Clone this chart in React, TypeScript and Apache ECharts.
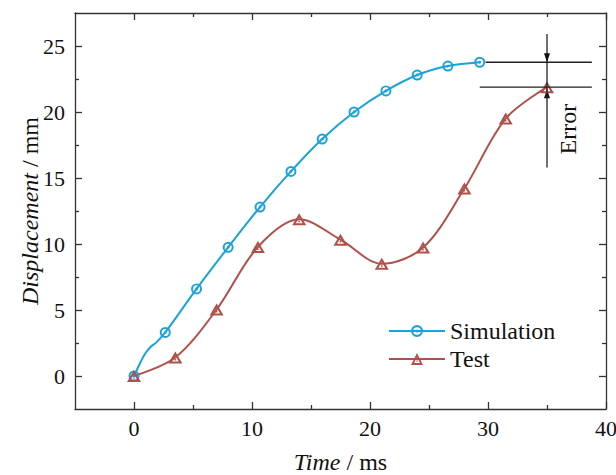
import React, { useEffect, useRef } from "react";
import * as echarts from "echarts";

// Simulation (marked points)
const simX = [0, 2.65, 5.3, 7.98, 10.68, 13.3, 15.95, 18.65, 21.35, 24.0, 26.6, 29.3];
const simY = [0, 3.3, 6.6, 9.75, 12.8, 15.5, 17.95, 20.0, 21.6, 22.8, 23.48, 23.77];
// Simulation extra (unmarked) points near the start
const simExtraX = [0.5, 0.95, 1.4, 1.9];
const simExtraY = [0.95, 1.7, 2.2, 2.55];
// Test
const testX = [0, 3.5, 7.0, 10.5, 14.0, 17.5, 21.0, 24.5, 28.0, 31.5, 35.0];
const testY = [0, 1.4, 5.03, 9.77, 11.87, 10.33, 8.5, 9.73, 14.2, 19.5, 21.88];

const xMajor = [0, 10, 20, 30, 40];
const xMinor = [5, 15, 25, 35];
const yMajor = [0, 5, 10, 15, 20, 25];
const yMinor = [2.5, 7.5, 12.5, 17.5, 22.5];

// Error annotation (data coords)
const errX = 35;
const errTop = 25.9;
const errBottom = 15.8;
const refLineStart = [29.8, 29.3];
const refLineEnd = 38.8;
const errLabel = [36.8, 18.7];

const FONT = "'Liberation Serif', 'Times New Roman', serif";
const BLUE = "#1aa2dd";
const RED = "#b0504a";
const AX = "#333333";
const TXT = "#111111";

const circleSym =
  "path://M0,10A10,10,0,1,1,20,10A10,10,0,1,1,0,10ZM3.6,10A6.4,6.4,0,1,0,16.4,10A6.4,6.4,0,1,0,3.6,10ZM7.4,10A2.6,2.6,0,1,1,12.6,10A2.6,2.6,0,1,1,7.4,10Z";
const triSym =
  "path://M10,0L20,18L0,18ZM10,6.2L5.1,15L14.9,15ZM8.9,11.1L11.1,11.1L11.1,13.3L8.9,13.3Z";

export default function App() {
  const ref = useRef<HTMLDivElement>(null);
  useEffect(() => {
    if (!ref.current) return;
    const chart = echarts.init(ref.current, undefined, { renderer: "svg" });

    const simPts: any[] = simX.map((x, i) => ({ value: [x, simY[i]] }));
    simExtraX.forEach((x, i) =>
      simPts.push({ value: [x, simExtraY[i]], symbol: "none" })
    );
    simPts.sort((a, b) => a.value[0] - b.value[0]);
    const testPts = testX.map((x, i) => [x, testY[i]]);

    const lineStyle = { color: AX, width: 1.3 };
    const mkX = (pos: string, ticks: number[], len: number, labels: boolean, line: boolean): any => ({
      type: "value",
      min: -5,
      max: 40,
      position: pos,
      axisLine: { show: line, onZero: false, lineStyle },
      axisTick: { show: true, inside: true, length: len, customValues: ticks, lineStyle },
      axisLabel: labels
        ? { show: true, customValues: xMajor, margin: 8, color: TXT, fontFamily: FONT, fontSize: 22 }
        : { show: false },
      splitLine: { show: false },
    });
    const mkY = (pos: string, ticks: number[], len: number, labels: boolean, line: boolean): any => ({
      type: "value",
      min: -2.5,
      max: 27.5,
      position: pos,
      axisLine: { show: line, onZero: false, lineStyle },
      axisTick: { show: true, inside: true, length: len, customValues: ticks, lineStyle },
      axisLabel: labels
        ? { show: true, customValues: yMajor, margin: 10, color: TXT, fontFamily: FONT, fontSize: 22 }
        : { show: false },
      splitLine: { show: false },
    });

    const titleStyle = {
      color: TXT,
      fontFamily: FONT,
      fontSize: 24,
      rich: { i: { fontStyle: "italic", fontFamily: FONT, fontSize: 24, color: TXT } },
    };
    const xAxes = [
      mkX("bottom", xMajor, 7, true, true),
      mkX("bottom", xMinor, 4, false, false),
      mkX("top", xMajor, 7, false, true),
      mkX("top", xMinor, 4, false, false),
    ];
    Object.assign(xAxes[0], {
      name: "{i|Time} / ms",
      nameLocation: "middle",
      nameGap: 41,
      nameMoveOverlap: false,
      nameTextStyle: titleStyle,
    });
    const yAxes = [
      mkY("left", yMajor, 7, true, true),
      mkY("left", yMinor, 4, false, false),
      mkY("right", yMajor, 7, false, true),
      mkY("right", yMinor, 4, false, false),
    ];
    Object.assign(yAxes[0], {
      name: "{i|Displacement} / mm",
      nameLocation: "middle",
      nameGap: 33,
      nameMoveOverlap: false,
      nameTextStyle: titleStyle,
    });

    chart.setOption({
      animation: false,
      backgroundColor: "#ffffff",
      textStyle: { fontFamily: FONT },
      grid: {
        left: 75,
        right: 10,
        top: 13,
        bottom: 66,
        containLabel: false,
        outerBoundsMode: "none",
      },
      xAxis: xAxes,
      yAxis: yAxes,
      legend: {
        data: ["Simulation", "Test"],
        orient: "vertical",
        left: 383,
        top: 314,
        itemWidth: 56,
        itemHeight: 15,
        itemGap: 4,
        textStyle: { fontFamily: FONT, fontSize: 24, color: TXT },
      },
      series: [
        {
          name: "Simulation",
          type: "line",
          xAxisIndex: 0,
          yAxisIndex: 0,
          smooth: 0.33,
          data: simPts,
          symbol: circleSym,
          symbolSize: 11,
          lineStyle: { color: BLUE, width: 2 },
          itemStyle: { color: BLUE, borderWidth: 0 },
          z: 3,
        },
        {
          name: "Test",
          type: "line",
          xAxisIndex: 0,
          yAxisIndex: 0,
          smooth: 0.33,
          data: testPts,
          symbol: triSym,
          symbolSize: [14, 12],
          lineStyle: { color: RED, width: 2 },
          itemStyle: { color: RED, borderWidth: 0 },
          z: 3,
        },
      ],
    });

    const px = (x: number, y: number) =>
      chart.convertToPixel({ gridIndex: 0 }, [x, y]) as number[];
    const simLast = simY[simY.length - 1];
    const testLast = testY[testY.length - 1];
    const a1 = px(refLineStart[0], simLast);
    const a2 = px(refLineEnd, simLast);
    const b1 = px(refLineStart[1], testLast);
    const b2 = px(refLineEnd, testLast);
    const v1 = px(errX, errTop);
    const v2 = px(errX, errBottom);
    const tipDown = px(errX, simLast);
    const tipUp = px(errX, testLast);
    const lab = px(errLabel[0], errLabel[1]);
    const ls = { stroke: "#222", lineWidth: 1.3 };
    chart.setOption({
      graphic: [
        { type: "line", z: 10, shape: { x1: a1[0], y1: a1[1], x2: a2[0], y2: a2[1] }, style: ls },
        { type: "line", z: 10, shape: { x1: b1[0], y1: b1[1], x2: b2[0], y2: b2[1] }, style: ls },
        { type: "line", z: 10, shape: { x1: v1[0], y1: v1[1], x2: v2[0], y2: v2[1] }, style: ls },
        {
          type: "polygon",
          z: 10,
          shape: {
            points: [
              [tipDown[0], tipDown[1]],
              [tipDown[0] - 3, tipDown[1] - 9],
              [tipDown[0] + 3, tipDown[1] - 9],
            ],
          },
          style: { fill: "#111" },
        },
        {
          type: "polygon",
          z: 1,
          shape: {
            points: [
              [tipUp[0], tipUp[1] + 2],
              [tipUp[0] - 3, tipUp[1] + 11],
              [tipUp[0] + 3, tipUp[1] + 11],
            ],
          },
          style: { fill: "#111" },
        },
        {
          type: "text",
          z: 10,
          x: lab[0],
          y: lab[1],
          rotation: Math.PI / 2,
          style: {
            text: "Error",
            x: 0,
            y: 0,
            align: "center",
            verticalAlign: "middle",
            fill: TXT,
            font: `24px ${FONT}`,
          },
        },
      ],
    });

    return () => chart.dispose();
  }, []);
  return (
    <div
      ref={ref}
      style={{ position: "fixed", left: 0, top: 0, width: 616, height: 475, background: "#fff" }}
    />
  );
}
